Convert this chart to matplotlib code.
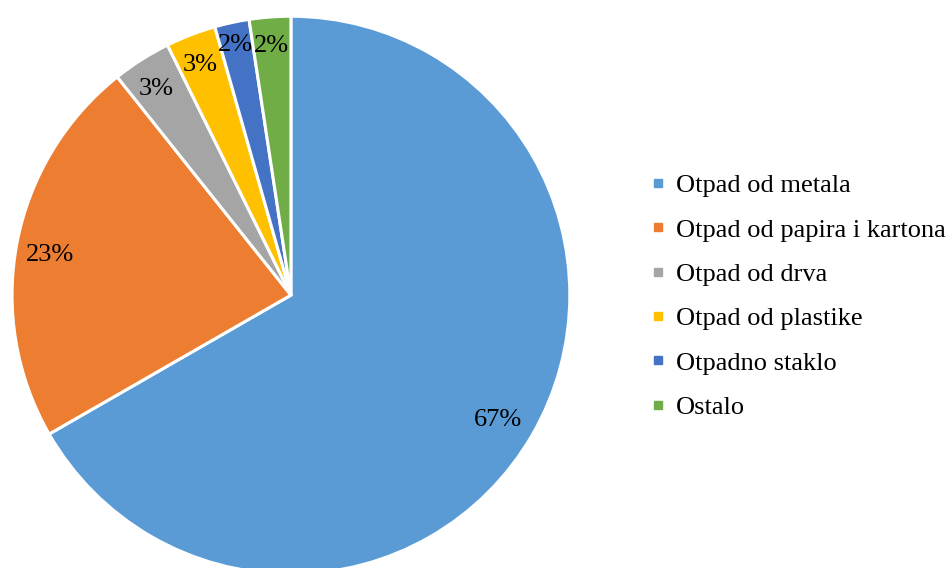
import numpy as np
import matplotlib.pyplot as plt
from matplotlib.lines import Line2D

labels = ['Otpad od metala', 'Otpad od papira i kartona', 'Otpad od drva',
          'Otpad od plastike', 'Otpadno staklo', 'Ostalo']
values = [66.7, 22.6, 3.4, 2.9, 2.0, 2.4]
colors = ['#5B9BD5', '#ED7D31', '#A5A5A5', '#FFC000', '#4472C4', '#70AD47']

# radial position of each percentage label (fraction of radius)
label_r = [0.857, 0.878, 0.90, 0.907, 0.94, 0.915]

plt.rcParams['font.family'] = 'Liberation Serif'

fig = plt.figure(figsize=(9.52, 5.68), dpi=100)
ax = fig.add_axes([0.0126, -0.0106, 0.586, 0.982])

wedges, texts, autotexts = ax.pie(values, colors=colors, startangle=90, counterclock=False,
                                  autopct='%1.0f%%', pctdistance=0.88,
                                  wedgeprops={'edgecolor': 'white', 'linewidth': 2.2},
                                  textprops={'fontsize': 19, 'color': 'black'})
for w, t, r in zip(wedges, autotexts, label_r):
    ang = np.deg2rad((w.theta1 + w.theta2) / 2)
    # small downward nudge so digits sit like the original
    t.set_position((r * np.cos(ang), r * np.sin(ang) - 0.02))

ax.set_xlim(-1, 1)
ax.set_ylim(-1, 1)

handles = [Line2D([], [], marker='s', linestyle='', markersize=6, color=c) for c in colors]
fig.legend(handles, labels, loc='upper left', bbox_to_anchor=(0.684, 0.694),
           frameon=False, fontsize=19, handlelength=0.55, handletextpad=0.4,
           labelspacing=0.79, borderpad=0, borderaxespad=0)

fig.savefig('out.png', dpi=100)
